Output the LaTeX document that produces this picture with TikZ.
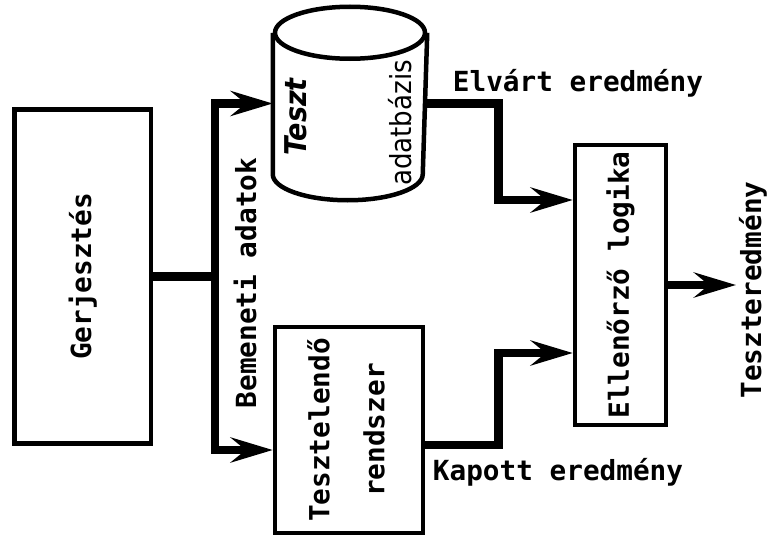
\documentclass[tikz,border=0pt]{standalone}
\usepackage{fontspec}
\setmonofont{DejaVu Sans Mono}
\newfontfamily\dbfont{DejaVuSansCondensed.ttf}
\newfontfamily\dbfontbi{DejaVuSansCondensed-BoldOblique.ttf}
\usetikzlibrary{arrows.meta}

\tikzset{
    box/.style={draw, line width=4.5pt, minimum width=#1},
    lbl/.style={font=\ttfamily\bfseries\fontsize{27.7pt}{55pt}\selectfont, inner sep=0pt},
    flow/.style={line width=8.5pt, line join=miter},
    tip/.style={-{Stealth[length=42pt, width=25pt, inset=15pt]}},
    cyl/.style={line width=4.5pt}
}

\begin{document}
\begin{tikzpicture}[x=1pt, y=-1pt]
    \useasboundingbox (0,0) rectangle (769,538);

    % Blocks
    \node[box=136.5pt, minimum height=334pt] (gerj) at (82.75,276.5) {};
    \node[lbl, rotate=90] (gerjtxt) at (gerj.center) {Gerjesztés};

    % database drawn as a cylinder around an invisible frame
    \node[minimum width=150pt, minimum height=189pt, outer sep=2.25pt] (db) at (350,103.5) {};
    \draw[cyl] (db.north) ++(0,26) ellipse [x radius=75, y radius=26];
    \draw[cyl] ([yshift=-26pt]db.north west) -- ([yshift=26pt]db.south west)
        arc [start angle=180, end angle=0, x radius=75, y radius=26]
        -- ([yshift=-26pt]db.north east);
    \node[font=\dbfontbi\fontsize{30pt}{32pt}\selectfont,
          inner sep=0pt, rotate=90] (dbname) at (296,117) {Teszt};
    \node[font=\dbfont\fontsize{29pt}{32pt}\selectfont,
          inner sep=0pt, rotate=90] (dbkind) at (400,123) {adatbázis};

    \node[box=148pt, minimum height=206pt] (sut) at (349,430) {};
    \node[lbl, rotate=90, align=center] (suttxt) at (346,430) {Tesztelendő\\rendszer};

    \node[box=91pt, minimum height=280pt] (ell) at (620.5,285) {};
    \node[lbl, rotate=90] (elltxt) at (ell.center) {Ellenőrző logika};

    % Connection points
    \coordinate (bus) at (215,276.5);
    \coordinate (sutin) at ([yshift=-20pt]sut.west);
    \coordinate (sutout) at ([yshift=-15pt]sut.east);
    \coordinate (ellA) at ([yshift=85pt]ell.west);
    \coordinate (ellB) at ([yshift=-68pt]ell.west);
    \coordinate (res) at (736,285);

    % Signal paths
    \draw[flow] (gerj.east) -- (bus);
    \draw[flow, tip] (bus) |- (db.west);
    \draw[flow, tip] (bus) |- (sutin);
    \draw[flow, tip] (db.east) -- ++(71,0) |- (ellA);
    \draw[flow, tip] (sutout) -- ++(73,0) |- (ellB);
    \draw[flow, tip] (ell.east) -- (res);

    % Labels
    \node[lbl] (expected) at (578,83) {Elvárt eredmény};
    \node[lbl] (actual) at (558,472) {Kapott eredmény};
    \node[lbl, rotate=90] (inputs) at (245,283) {Bemeneti adatok};
    \node[lbl, rotate=90] (result) at (753,290) {Teszteredmény};
\end{tikzpicture}
\end{document}
